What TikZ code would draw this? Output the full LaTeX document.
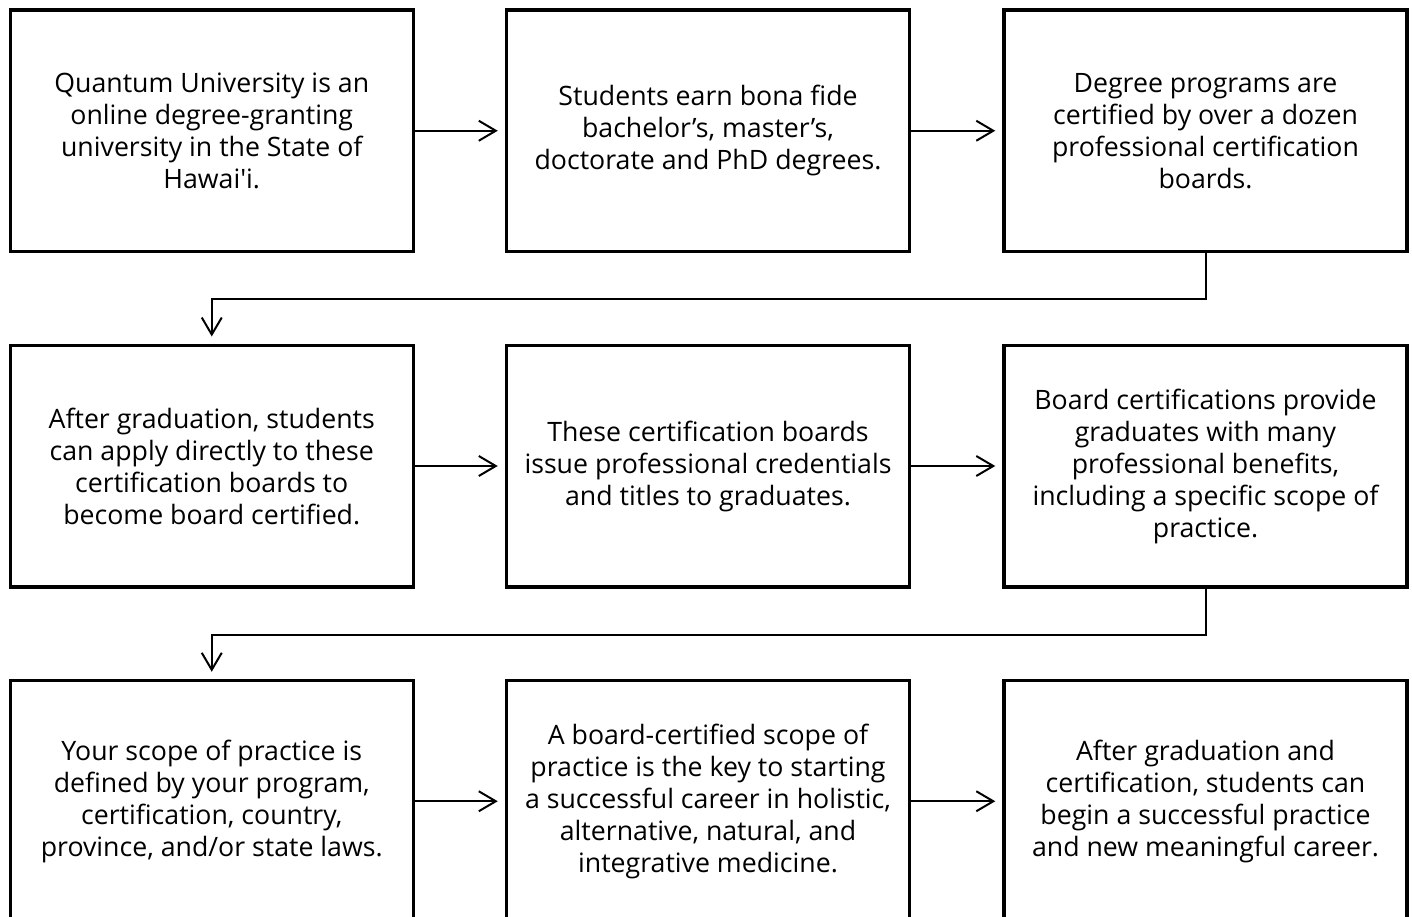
\documentclass[tikz,border=0pt]{standalone}
\usepackage{fontspec}
\setmainfont{Open Sans}[Ligatures=TeXOff]
\usetikzlibrary{arrows.meta}

\begin{document}
\begin{tikzpicture}[x=1pt,y=-1pt]
    \tikzstyle{every node}+=[inner sep=0pt, align=center, font=\fontsize{26.7}{32}\selectfont]
    \tikzstyle{stepbox}=[draw=black, line width=3.5pt, minimum width=403pt, minimum height=241.5pt]
    \tikzstyle{flow}=[black, line width=2pt, -{Straight Barb[length=17pt,width=20pt]}, shorten >=7pt]
    \useasboundingbox (0,0) rectangle (1412,917);
    % first row
    \node [stepbox] (univ) at (211.75,130.75) {Quantum University is an\\online degree-granting\\university in the State of\\Hawai'i.};
    \node [stepbox] (degrees) at (708,130.75) {Students earn bona fide\\bachelor’s, master’s,\\doctorate and PhD degrees.};
    \node [stepbox] (boards) at (1205.5,130.75) {Degree programs are\\certified by over a dozen\\professional certification\\boards.};
    % second row
    \node [stepbox] (apply) at (211.75,466) {After graduation, students\\can apply directly to these\\certification boards to\\become board certified.};
    \node [stepbox] (titles) at (708,466) {These certification boards\\issue professional credentials\\and titles to graduates.};
    \node [stepbox] (benefits) at (1205.5,466) {Board certifications provide\\graduates with many\\professional benefits,\\including a specific scope of\\practice.};
    % third row
    \node [stepbox] (scope) at (211.75,801.25) {Your scope of practice is\\defined by your program,\\certification, country,\\province, and/or state laws.};
    \node [stepbox] (key) at (708,801.25) {A board-certified scope of\\practice is the key to starting\\a successful career in holistic,\\alternative, natural, and\\integrative medicine.};
    \node [stepbox] (career) at (1205.5,801.25) {After graduation and\\certification, students can\\begin a successful practice\\and new meaningful career.};
    % connectors
    \draw [flow] (univ) -- (degrees);
    \draw [flow] (degrees) -- (boards);
    \draw [flow] (boards.south) -- ++(0,46) -| (apply.north);
    \draw [flow] (apply) -- (titles);
    \draw [flow] (titles) -- (benefits);
    \draw [flow] (benefits.south) -- ++(0,46) -| (scope.north);
    \draw [flow] (scope) -- (key);
    \draw [flow] (key) -- (career);
\end{tikzpicture}
\end{document}
